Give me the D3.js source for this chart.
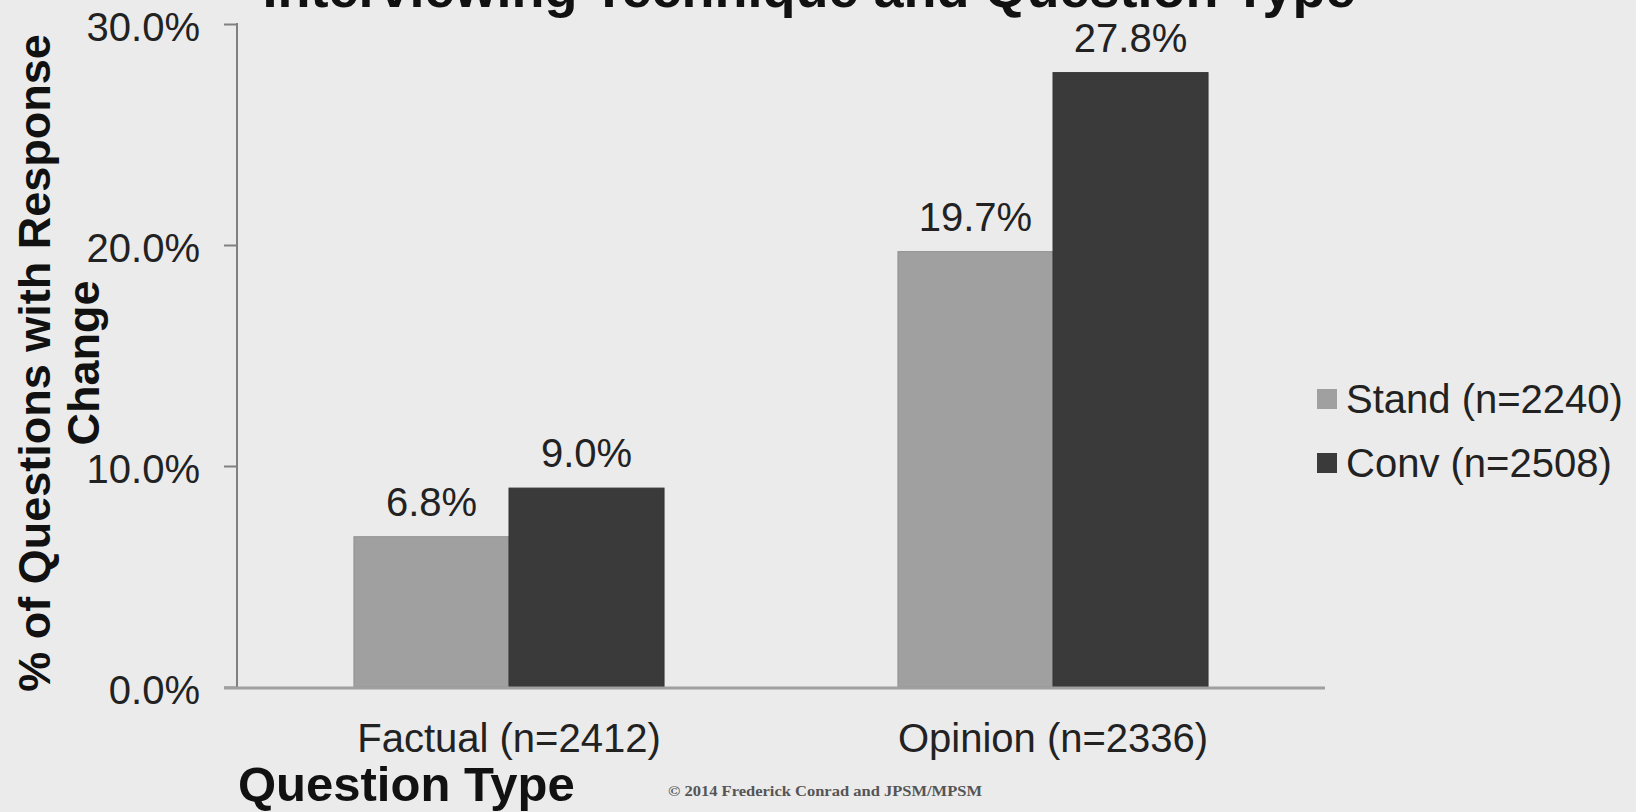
<!DOCTYPE html>
<html>
<head>
<meta charset="utf-8">
<script src="https://cdn.jsdelivr.net/npm/d3@7"></script>
<style>
  html, body { margin: 0; padding: 0; background: #ebebeb; }
  svg { display: block; }
  text { font-family: "Liberation Sans", Arial, Helvetica, sans-serif; }
  text.copyright { font-family: "Liberation Serif", "Times New Roman", serif; }
</style>
</head>
<body>
<svg id="chart" width="1636" height="812"></svg>
<script>
// Response change by interviewing technique and question type
const categories = ["Factual (n=2412)", "Opinion (n=2336)"];
const seriesNames = ["Stand (n=2240)", "Conv (n=2508)"];
const standValues = [0.068, 0.197];
const convValues = [0.090, 0.278];
const yTicks = [0, 0.10, 0.20, 0.30];
const seriesColors = ["#a0a0a0", "#3a3a3a"];

const rows = categories.map((c, i) => ({
  category: c,
  values: [
    { series: seriesNames[0], value: standValues[i] },
    { series: seriesNames[1], value: convValues[i] }
  ]
}));

const svg = d3.select("#chart");
const W = 1636, H = 812;
const plot = { left: 237, right: 1325, top: 24, bottom: 687 };

svg.append("rect").attr("width", W).attr("height", H).attr("fill", "#ebebeb");

const y = d3.scaleLinear().domain([0, 0.30]).range([plot.bottom, plot.top]);
const x0 = d3.scaleBand().domain(categories).range([plot.left, plot.right])
  .paddingInner(0.43).paddingOuter(0.215);
const x1 = d3.scaleBand().domain(seriesNames).range([0, x0.bandwidth()]);
const color = d3.scaleOrdinal().domain(seriesNames).range(seriesColors);

// Title (runs off the top edge)
svg.append("text")
  .attr("x", 809).attr("y", 7)
  .attr("text-anchor", "middle")
  .attr("font-size", 54).attr("font-weight", "bold").attr("fill", "#111")
  .text("Interviewing Technique and Question Type");

// Y axis
const yAxis = svg.append("g")
  .attr("transform", `translate(${plot.left},0)`)
  .call(d3.axisLeft(y).tickValues(yTicks).tickFormat(d3.format(".1%"))
    .tickSize(13).tickPadding(24));
yAxis.select(".domain").remove();
yAxis.selectAll(".tick line").attr("stroke", "#808080").attr("stroke-width", 2);
yAxis.selectAll(".tick text")
  .attr("font-size", 40).attr("fill", "#222").attr("dy", "0.4em");
yAxis.append("line")
  .attr("x1", 0).attr("x2", 0)
  .attr("y1", y(0.30) - 1).attr("y2", y(0))
  .attr("stroke", "#808080").attr("stroke-width", 2);

// Bars
const groups = svg.append("g").selectAll("g")
  .data(rows).join("g")
  .attr("transform", d => `translate(${x0(d.category)},0)`);

groups.selectAll("rect")
  .data(d => d.values).join("rect")
  .attr("x", d => x1(d.series))
  .attr("y", d => y(d.value))
  .attr("width", x1.bandwidth())
  .attr("height", d => y(0) - y(d.value))
  .attr("fill", d => color(d.series))
  .attr("stroke", d => d3.color(color(d.series)).darker(0.3))
  .attr("stroke-width", 1);

// Value labels
groups.selectAll("text.value")
  .data(d => d.values).join("text")
  .attr("class", "value")
  .attr("x", d => x1(d.series) + x1.bandwidth() / 2)
  .attr("y", d => y(d.value) - 21)
  .attr("text-anchor", "middle")
  .attr("font-size", 40).attr("fill", "#222")
  .text(d => d3.format(".1%")(d.value));

// X axis
const xAxis = svg.append("g")
  .attr("transform", `translate(0,${plot.bottom})`)
  .call(d3.axisBottom(x0).tickSize(0).tickPadding(37));
xAxis.select(".domain").remove();
xAxis.selectAll(".tick text")
  .attr("font-size", 40).attr("fill", "#222");
xAxis.append("line")
  .attr("x1", 224).attr("x2", plot.right)
  .attr("y1", 1).attr("y2", 1)
  .attr("stroke", "#a0a0a0").attr("stroke-width", 3);

// Axis titles
svg.append("text")
  .attr("x", 238).attr("y", 801)
  .attr("font-size", 49).attr("font-weight", "bold").attr("fill", "#111")
  .text("Question Type");

const yTitle = svg.append("text")
  .attr("transform", "translate(50,363) rotate(-90)")
  .attr("text-anchor", "middle")
  .attr("font-size", 45).attr("font-weight", "bold").attr("fill", "#111");
yTitle.append("tspan").attr("x", 0).attr("y", 0).text("% of Questions with Response");
yTitle.append("tspan").attr("x", 0).attr("y", 49).text("Change");

// Legend
const legend = svg.append("g").selectAll("g")
  .data(seriesNames).join("g")
  .attr("transform", (d, i) => `translate(1317,${399 + i * 64})`);
legend.append("rect")
  .attr("x", 0).attr("y", -10).attr("width", 20).attr("height", 20)
  .attr("fill", d => color(d));
legend.append("text")
  .attr("x", 29).attr("y", 0).attr("dy", "0.36em")
  .attr("font-size", 40).attr("fill", "#222")
  .text(d => d);

// Copyright line
svg.append("text")
  .attr("class", "copyright")
  .attr("x", 668).attr("y", 796)
  .attr("font-size", 15).attr("font-weight", "bold").attr("fill", "#555")
  .attr("textLength", 314).attr("lengthAdjust", "spacingAndGlyphs")
  .text("© 2014 Frederick Conrad and JPSM/MPSM");
</script>
</body>
</html>
